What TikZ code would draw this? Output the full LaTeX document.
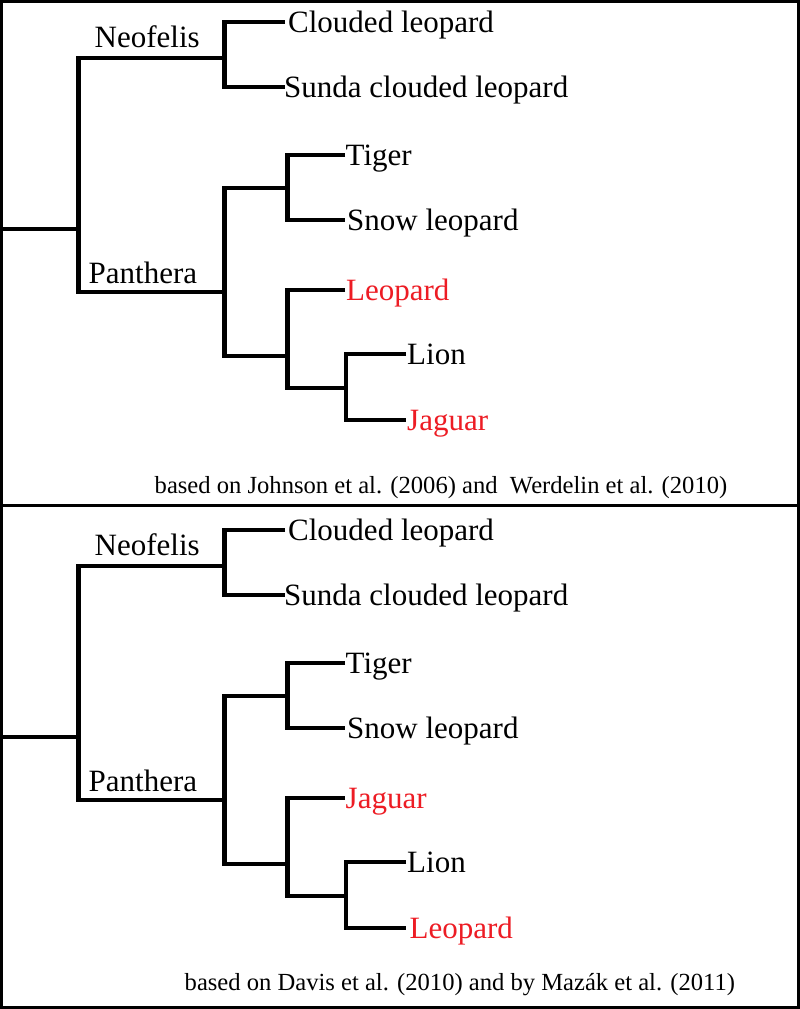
\documentclass[tikz,border=0pt]{standalone}
\usepackage{fontspec}
\setmainfont{Liberation Serif}
\definecolor{catred}{RGB}{237,28,36}
\usetikzlibrary{calc}
\tikzset{
  branch/.style={line width=4.3pt, line join=miter, line cap=butt},
  frame/.style={line width=2.6pt},
  leaf/.style={anchor=base west, inner sep=0pt, font=\fontsize{31}{31}\selectfont},
  clade/.style={anchor=base west, inner sep=0pt, font=\fontsize{31}{31}\selectfont},
  source/.style={anchor=base west, inner sep=0pt, font=\fontsize{24.6}{24.6}\selectfont},
  hot/.style={text=catred}
}
% #1 prefix, #2 y offset, #3 fifth leaf text, #4 its x, #5 seventh leaf text, #6 its x
\newcommand{\cattree}[6]{%
  \begin{scope}[shift={(0,#2)}]
    \coordinate (#1stem) at (0,229);
    \coordinate (#1root) at (78.4,229);
    \coordinate (#1neo) at (224.5,58);
    \coordinate (#1pan) at (224.5,292);
    \coordinate (#1up) at (287.5,188);
    \coordinate (#1low) at (287.5,356);
    \coordinate (#1ll) at (346,388);
    \coordinate (#1cl) at (285,22);
    \coordinate (#1su) at (285,87);
    \coordinate (#1ti) at (345,155);
    \coordinate (#1sn) at (345,220);
    \coordinate (#1le) at (345,290);
    \coordinate (#1li) at (406,354);
    \coordinate (#1ja) at (406,420);
    \draw[branch] (#1stem) -- (#1root);
    \draw[branch] (#1neo) -| (#1root) |- (#1pan);
    \draw[branch] (#1cl) -| (#1neo) |- (#1su);
    \draw[branch] (#1up) -| ($(#1pan)+(0,-104)$) -- ($(#1pan)+(0,64)$) -- (#1low);
    \draw[branch] (#1ti) -| (#1up) |- (#1sn);
    \draw[branch] (#1le) -| (#1low) |- (#1ll);
    \draw[branch] (#1li) -| (#1ll) |- (#1ja);
    \node[clade] (#1neolab) at (94.5,47) {Neofelis};
    \node[clade] (#1panlab) at (88.5,283) {Panthera};
    \node[leaf] (#1cllab) at (288,32) {Clouded leopard};
    \node[leaf] (#1sulab) at (284,97) {Sunda clouded leopard};
    \node[leaf] (#1tilab) at (345.5,165) {Tiger};
    \node[leaf] (#1snlab) at (347,230) {Snow leopard};
    \node[leaf,hot] (#1lelab) at (#4,300) {#3};
    \node[leaf] (#1lilab) at (407,364) {Lion};
    \node[leaf,hot] (#1jalab) at (#6,430) {#5};
  \end{scope}}
\begin{document}
\begin{tikzpicture}[x=1pt,y=-1pt]
  \useasboundingbox (0,0) rectangle (800,1009);
  \fill[white] (0,0) rectangle (800,1009);
  \draw[frame] (1.3,1.3) rectangle (798.7,505.3);
  \draw[frame] (1.3,505.3) rectangle (798.7,1007.7);
  \cattree{a}{0}{Leopard}{346}{Jaguar}{407}
  \cattree{b}{508}{Jaguar}{345.5}{Leopard}{409.5}
  \node[source] (asrc) at (154.5,493) {based on Johnson et al. (2006) and~ Werdelin et al. (2010)};
  \node[source] (bsrc) at (184.5,990) {based on Davis et al. (2010) and by Mazák et al. (2011)};
\end{tikzpicture}
\end{document}
